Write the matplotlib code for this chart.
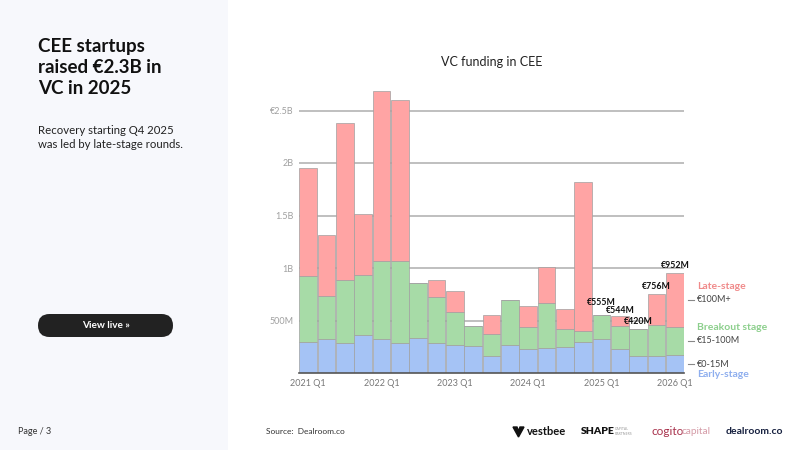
import matplotlib
matplotlib.use("Agg")
import matplotlib.pyplot as plt
from matplotlib.patches import Rectangle, FancyBboxPatch, Polygon
import matplotlib.transforms as mtransforms

plt.rcParams['font.family'] = ['Lato', 'DejaVu Sans']

# quarterly VC funding in CEE, EUR billions
quarters = ["2021 Q1", "2021 Q2", "2021 Q3", "2021 Q4",
            "2022 Q1", "2022 Q2", "2022 Q3", "2022 Q4",
            "2023 Q1", "2023 Q2", "2023 Q3", "2023 Q4",
            "2024 Q1", "2024 Q2", "2024 Q3", "2024 Q4",
            "2025 Q1", "2025 Q2", "2025 Q3", "2025 Q4",
            "2026 Q1"]
early = [0.30, 0.32, 0.29, 0.36, 0.32, 0.29, 0.33, 0.29, 0.27, 0.26, 0.16,
         0.27, 0.23, 0.24, 0.25, 0.30, 0.32, 0.23, 0.16, 0.16, 0.17]
breakout = [0.62, 0.41, 0.60, 0.575, 0.75, 0.78, 0.53, 0.43, 0.31, 0.19, 0.21,
            0.43, 0.21, 0.43, 0.165, 0.10, 0.235, 0.22, 0.26, 0.30, 0.27]
late = [1.03, 0.58, 1.49, 0.58, 1.62, 1.53, 0.0, 0.17, 0.20, 0.0, 0.18,
        0.0, 0.20, 0.34, 0.19, 1.42, 0.0, 0.094, 0.0, 0.296, 0.512]
labelled = [16, 17, 18, 19, 20]
label_lift = [12, 5, 7, 7, 8]   # px above bar top (label centre)
ytick_vals = [0.5, 1.0, 1.5, 2.0, 2.5]
ytick_text = ["500M", "1B", "1.5B", "2B", "€2.5B"]
xtick_idx = [0, 4, 8, 12, 16, 20]

c_early = "#a5c3f5"
c_break = "#a7dba7"
c_late = "#ffa4a4"

fig = plt.figure(figsize=(8, 4.5), dpi=100)

# page layer in pixel coords
bg = fig.add_axes([0, 0, 1, 1], zorder=0)
bg.set_xlim(0, 800)
bg.set_ylim(450, 0)
bg.axis("off")
bg.add_patch(Rectangle((0, 0), 228, 450, color="#f7f8fc", lw=0))
bg.text(38, 38, "CEE startups\nraised €2.3B in\nVC in 2025", fontsize=13.5,
        fontweight="bold", color="#111", va="top", linespacing=1.27,
        ha="left")
bg.text(38, 137.5, "Recovery starting Q4 2025\nwas led by late-stage rounds.",
        fontsize=8.2, color="#222", va="center", linespacing=1.3)
bg.add_patch(FancyBboxPatch((38, 314), 135, 23,
                            boxstyle="round,pad=0,rounding_size=11.5",
                            fc="#222222", ec="none"))
bg.text(105.5, 325.5, "View live »", color="white", fontsize=7.2,
        fontweight="bold", ha="center", va="center")
bg.text(18, 431, "Page / 3", fontsize=6.5, color="#333", va="center")
bg.text(266, 431, "Source:  Dealroom.co", fontsize=6, color="#333", va="center")

# partner logos
bg.add_patch(Polygon([(513, 427), (517, 427), (518.5, 431), (520, 427),
                      (524, 427), (518.5, 437)], closed=True, color="#111"))
bg.text(527, 431.5, "vestbee", fontsize=8, fontweight="bold", color="#111",
        va="center")
bg.text(581, 431.5, "SHAPE", fontsize=7.5, fontweight="heavy", color="#111",
        va="center")
bg.text(615, 431.5, "CAPITAL\nPARTNERS", fontsize=2.5, color="#999",
        va="center", linespacing=1.1)
bg.text(651, 431.5, "cogito", fontsize=8.5, color="#a8324c", va="center")
bg.text(682, 431.5, "capital", fontsize=7.2, color="#d49aa6", va="center")
bg.text(726, 431, "dealroom.co", fontsize=7.5, fontweight="bold",
        color="#16203f", va="center")

# chart
ax = fig.add_axes([299 / 800, 77 / 450, 385 / 800, 294 / 450], zorder=2)
ax.set_facecolor("none")
xs = list(range(len(quarters)))
bottom2 = [e + b for e, b in zip(early, breakout)]
totals = [s + l for s, l in zip(bottom2, late)]
kw = dict(width=0.96, edgecolor="#a0a0a0", linewidth=0.5, zorder=3)
ax.bar(xs, early, color=c_early, **kw)
ax.bar(xs, breakout, bottom=early, color=c_break, **kw)
ax.bar(xs, late, bottom=bottom2, color=c_late, **kw)

for i, lift in zip(labelled, label_lift):
    ax.annotate(f"€{round(totals[i] * 1000)}M", (xs[i], totals[i]),
                xytext=(0, lift), textcoords="offset pixels", ha="center",
                va="center", fontsize=6.3, fontweight="bold", color="#111")

ax.set_xlim(-0.5, len(quarters) - 0.5)
ax.set_ylim(0, 2.8)
ax.set_yticks(ytick_vals)
ax.set_yticklabels(ytick_text)
ax.set_xticks(xtick_idx)
ax.set_xticklabels([quarters[i] for i in xtick_idx])
ax.tick_params(axis="y", length=0, pad=4, labelsize=6.5, labelcolor="#a0a0a0")
ax.tick_params(axis="x", length=0, pad=4, labelsize=6.5, labelcolor="#777")
ax.grid(axis="y", color="#b4b4b4", lw=1.2, zorder=0)
for s in ["top", "right", "left"]:
    ax.spines[s].set_visible(False)
ax.spines["bottom"].set_color("#555")
ax.spines["bottom"].set_linewidth(1.2)
ax.spines["bottom"].set_zorder(4)
ax.set_title("VC funding in CEE", fontsize=9, color="#222", pad=9.5)

# stage legend at the middle of the last bar's segments
last = len(quarters) - 1
mids = [early[last] / 2, early[last] + breakout[last] / 2,
        bottom2[last] + late[last] / 2]
names = ["Early-stage", "Breakout stage", "Late-stage"]
ranges = ["€0-15M", "€15-100M", "€100M+"]
name_cols = ["#8eaeee", "#8ccf8c", "#f08a8a"]
name_off = [-10, 13, 13]
tr = mtransforms.blended_transform_factory(ax.transAxes, ax.transData)
for m, n, r, c, off in zip(mids, names, ranges, name_cols, name_off):
    ax.plot([1.011, 1.026], [m, m], color="#888", lw=0.8, transform=tr,
            clip_on=False)
    ax.text(1.034, m, r, transform=tr, fontsize=6.5, color="#444",
            va="center", ha="left")
    ax.annotate(n, (1.034, m), xycoords=tr, xytext=(0, off),
                textcoords="offset pixels", fontsize=7.5, fontweight="bold",
                color=c, va="center", ha="left")

fig.savefig("out.png", dpi=100)
